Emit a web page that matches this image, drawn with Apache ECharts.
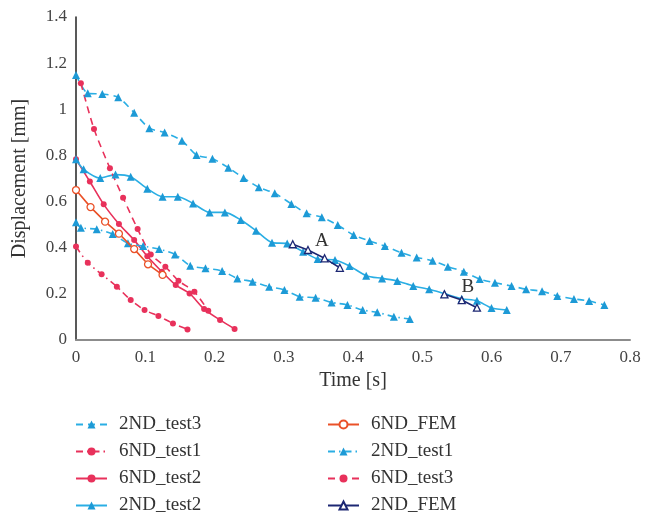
<!DOCTYPE html>
<html>
<head>
<meta charset="utf-8">
<script src="https://cdn.jsdelivr.net/npm/echarts@6/dist/echarts.min.js"></script>
<style>
  html, body { margin: 0; padding: 0; background: #fff; }
  #chart { width: 646px; height: 515px; }
</style>
</head>
<body>
<div id="chart"></div>
<script>
// 数据
var t2test3 = [0, 0.017, 0.038, 0.061, 0.084, 0.106, 0.128, 0.153, 0.174, 0.197, 0.220, 0.242, 0.264, 0.287, 0.311, 0.333, 0.355, 0.378, 0.401, 0.424, 0.446, 0.470, 0.492, 0.515, 0.537, 0.560, 0.583, 0.605, 0.629, 0.650, 0.673, 0.695, 0.719, 0.741, 0.763];
var d2test3 = [1.149, 1.069, 1.066, 1.052, 0.985, 0.918, 0.899, 0.864, 0.802, 0.786, 0.747, 0.702, 0.662, 0.636, 0.590, 0.549, 0.532, 0.498, 0.455, 0.429, 0.407, 0.378, 0.358, 0.344, 0.318, 0.296, 0.264, 0.248, 0.234, 0.220, 0.211, 0.191, 0.178, 0.169, 0.152];

var t2test2 = [0, 0.011, 0.035, 0.057, 0.079, 0.103, 0.125, 0.147, 0.169, 0.193, 0.215, 0.238, 0.260, 0.283, 0.305, 0.328, 0.349, 0.374, 0.395, 0.419, 0.442, 0.464, 0.487, 0.510, 0.532, 0.557, 0.579, 0.600, 0.622];
var d2test2 = [0.783, 0.740, 0.702, 0.717, 0.708, 0.656, 0.621, 0.621, 0.592, 0.553, 0.553, 0.520, 0.474, 0.422, 0.418, 0.383, 0.351, 0.347, 0.321, 0.279, 0.267, 0.256, 0.234, 0.220, 0.201, 0.179, 0.170, 0.139, 0.130];

var t2test1 = [0, 0.007, 0.030, 0.053, 0.075, 0.097, 0.120, 0.143, 0.165, 0.187, 0.211, 0.233, 0.255, 0.279, 0.301, 0.323, 0.346, 0.369, 0.392, 0.414, 0.435, 0.459, 0.482];
var d2test1 = [0.510, 0.487, 0.480, 0.459, 0.419, 0.407, 0.394, 0.371, 0.322, 0.311, 0.299, 0.267, 0.253, 0.231, 0.217, 0.188, 0.183, 0.163, 0.152, 0.130, 0.120, 0.101, 0.091];

var t6test3 = [0.007, 0.026, 0.049, 0.068, 0.089, 0.108, 0.129, 0.148, 0.171, 0.191];
var d6test3 = [1.113, 0.915, 0.744, 0.617, 0.481, 0.371, 0.318, 0.257, 0.209, 0.127];

var t6test2 = [0, 0.020, 0.040, 0.062, 0.084, 0.103, 0.124, 0.144, 0.164, 0.185, 0.208, 0.229];
var d6test2 = [0.783, 0.687, 0.588, 0.503, 0.433, 0.363, 0.296, 0.238, 0.202, 0.134, 0.087, 0.048];

var t6test1 = [0, 0.017, 0.037, 0.059, 0.079, 0.099, 0.119, 0.140, 0.161];
var d6test1 = [0.405, 0.335, 0.285, 0.231, 0.173, 0.130, 0.104, 0.072, 0.046];

var t6fem = [0, 0.021, 0.042, 0.062, 0.084, 0.104, 0.125];
var d6fem = [0.650, 0.576, 0.513, 0.461, 0.394, 0.328, 0.282];

// two pieces (A, B), null = break
var t2fem = [0.313, 0.335, 0.359, 0.381, null, 0.532, 0.557, 0.579];
var d2fem = [0.415, 0.390, 0.354, 0.313, null, 0.198, 0.173, 0.140];

var notes = [{ name: 'A', t: 0.355, d: 0.43 }, { name: 'B', t: 0.566, d: 0.228 }];

var legendLeft = ['2ND_test3', '6ND_test1', '6ND_test2', '2ND_test2'];
var legendRight = ['6ND_FEM', '2ND_test1', '6ND_test3', '2ND_FEM'];

function pairs(ts, ds) {
  return ts.map(function (t, i) {
    return ds[i] == null ? ['-', '-'] : [t, ds[i]];
  });
}

var FONT = '"Liberation Serif", "DejaVu Serif", serif';
var BLUE = '#2aaee4', BLUE_M = '#1d9ad6';
var RED = '#e8315b';
var ORANGE = '#ea5128';
var NAVY = '#1c2773';
var DASH = [7, 5];
var DASHDOT = [7, 4, 1.5, 4];

function line(name, ts, ds, opt) {
  return {
    name: name,
    type: 'line',
    data: pairs(ts, ds),
    smooth: opt.smooth == null ? 0.25 : opt.smooth,
    symbol: opt.symbol,
    symbolSize: opt.size,
    showAllSymbol: true,
    connectNulls: false,
    z: opt.z || 2,
    lineStyle: { color: opt.color, width: 1.6, type: opt.type || 'solid' },
    itemStyle: {
      color: opt.fill || opt.markColor || opt.color,
      borderColor: opt.markColor || opt.color,
      borderWidth: opt.fill ? 1.3 : 0
    },
    emphasis: { disabled: true }
  };
}

var myChart = echarts.init(document.getElementById('chart'));

var femSeries = line('2ND_FEM', t2fem, d2fem, { color: NAVY, symbol: 'triangle', size: 7, fill: '#ffffff', smooth: false, z: 5 });
femSeries.markPoint = {
  symbol: 'circle',
  symbolSize: 1,
  itemStyle: { color: 'rgba(0,0,0,0)' },
  label: { show: true, color: '#333', fontFamily: FONT, fontSize: 19, formatter: '{b}' },
  data: notes.map(function (n) { return { name: n.name, coord: [n.t, n.d] }; })
};

var legendText = { fontFamily: FONT, fontSize: 19, color: '#333', padding: [0, 0, 0, 7] };

var option = {
  animation: false,
  backgroundColor: '#fff',
  grid: { left: 76, right: 16, top: 17, bottom: 175 },
  legend: [
    {
      data: legendLeft, orient: 'vertical', left: 70, top: 410, height: 120,
      itemWidth: 31, itemHeight: 10, itemGap: 8,
      textStyle: legendText
    },
    {
      data: legendRight, orient: 'vertical', left: 322, top: 410, height: 120,
      itemWidth: 31, itemHeight: 10, itemGap: 8,
      textStyle: legendText
    }
  ],
  xAxis: {
    type: 'value', min: 0, max: 0.8, interval: 0.1,
    name: 'Time [s]', nameLocation: 'middle', nameGap: 29,
    nameTextStyle: { fontFamily: FONT, fontSize: 20, color: '#333' },
    axisLine: { show: true, lineStyle: { color: '#8c8c8c', width: 2 } },
    axisTick: { show: false },
    splitLine: { show: false },
    axisLabel: { fontFamily: FONT, fontSize: 17, color: '#444', margin: 9 }
  },
  yAxis: {
    type: 'value', min: 0, max: 1.4, interval: 0.2,
    name: 'Displacement [mm]', nameLocation: 'middle', nameGap: 46,
    nameTextStyle: { fontFamily: FONT, fontSize: 20, color: '#333' },
    axisLine: { show: true, lineStyle: { color: '#222', width: 1.5 } },
    axisTick: { show: false },
    splitLine: { show: false },
    axisLabel: { fontFamily: FONT, fontSize: 17, color: '#444', margin: 9 }
  },
  series: [
    line('2ND_test3', t2test3, d2test3, { color: BLUE, markColor: BLUE_M, symbol: 'triangle', size: 8, type: DASH }),
    line('6ND_test1', t6test1, d6test1, { color: RED, symbol: 'circle', size: 6, type: DASHDOT }),
    line('6ND_test2', t6test2, d6test2, { color: RED, symbol: 'circle', size: 6 }),
    line('2ND_test2', t2test2, d2test2, { color: BLUE, markColor: BLUE_M, symbol: 'triangle', size: 8 }),
    line('6ND_FEM', t6fem, d6fem, { color: ORANGE, symbol: 'circle', size: 7, fill: '#ffffff', smooth: false, z: 4 }),
    line('2ND_test1', t2test1, d2test1, { color: BLUE, markColor: BLUE_M, symbol: 'triangle', size: 8, type: DASHDOT }),
    line('6ND_test3', t6test3, d6test3, { color: RED, symbol: 'circle', size: 6, type: DASH }),
    femSeries
  ]
};

myChart.setOption(option);
</script>
</body>
</html>
